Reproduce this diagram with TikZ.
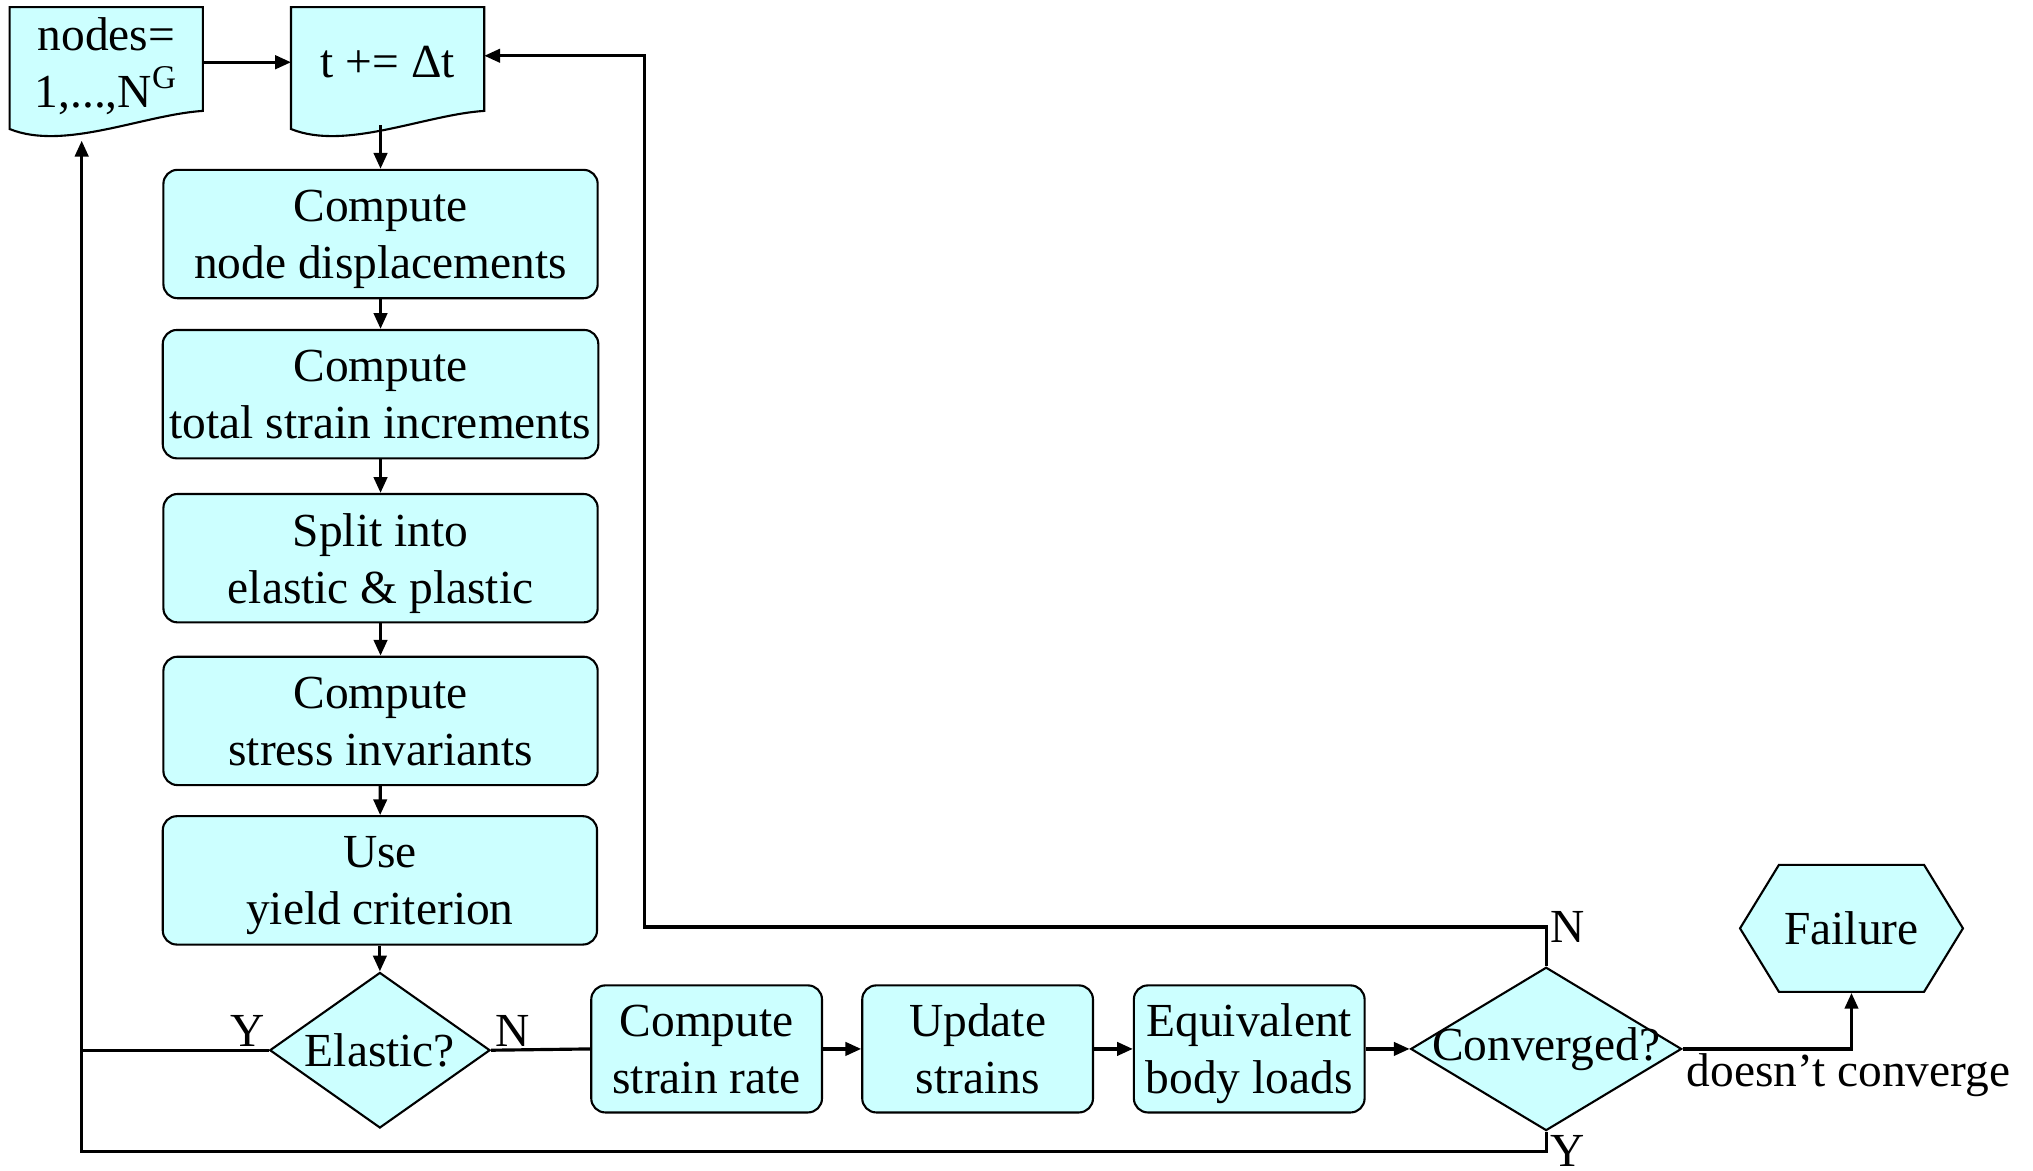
\documentclass[tikz,border=0pt]{standalone}
\usepackage{fontspec}
\setmainfont{Liberation Serif}
\usepackage{xcolor}
\usetikzlibrary{shapes.geometric}
\usetikzlibrary{shapes.symbols}
\usetikzlibrary{arrows.meta}
\usetikzlibrary{calc}
\usetikzlibrary{backgrounds}
\definecolor{boxfill}{HTML}{CCFFFF}
\tikzset{
  procbox/.style={rectangle, rounded corners=4pt, draw, line width=0.6pt,
    fill=boxfill, align=center, inner sep=2pt, text depth=0pt},
  colbox/.style={procbox, minimum width=4.344cm, minimum height=1.284cm},
  rowbox/.style={procbox, minimum width=2.308cm, minimum height=1.271cm},
  docbox/.style={rectangle, align=center, inner sep=1pt, text depth=0pt,
    minimum width=1.919cm, minimum height=1.089cm},
  docline/.style={draw, line width=0.6pt, fill=boxfill},
  decision/.style={diamond, draw, line width=0.6pt, fill=boxfill, inner sep=0pt},
  endbox/.style={signal, signal to=west and east, signal pointer angle=117,
    draw, line width=0.6pt, fill=boxfill, inner sep=1pt,
    minimum width=2.23cm, minimum height=1.271cm},
  lbl/.style={inner sep=1pt},
  line/.style={line width=0.9pt},
  arrow/.style={line, -{Triangle[length=4.5pt, width=3.8pt]}},
}
\begin{document}
\begin{tikzpicture}[x=0.012966cm, y=-0.012966cm, font=\fontsize{13.5}{16.2}\selectfont]
  \useasboundingbox (0,0) rectangle (1568,903);

  % loop heads
  \node[docbox] (init) at (82,48) {nodes=\\1,...,N\textsuperscript{G}};
  \node[docbox] (tstep) at (299,48) {t += Δt};
  \begin{scope}[on background layer]
    \foreach \doc in {init,tstep}
      \draw[docline] (\doc.north west) -- (\doc.north east) -- ($(\doc.south east)+(0,-5)$)
        .. controls ($(\doc.south east)+(-46,-2)$) and ($(\doc.south west)+(42,26)$)
        .. ($(\doc.south west)+(0,9)$) -- cycle;
  \end{scope}

  % per node steps
  \node[colbox] (disp) at (293.5,180.5) {Compute\\node displacements};
  \node[colbox] (strain) at (293.5,304) {Compute\\total strain increments};
  \node[colbox] (split) at (293.5,430.5) {Split into\\elastic \& plastic};
  \node[colbox] (stress) at (293.5,556) {Compute\\stress invariants};
  \node[colbox] (yield) at (293,679) {Use\\yield criterion};

  \node[decision, minimum width=2.204cm, minimum height=1.556cm] (elastic) at (293,810)
    {\makebox[0pt]{Elastic?}};

  \node[rowbox] (rate) at (545,809) {Compute\\strain rate};
  \node[rowbox] (update) at (754,809) {Update\\strains};
  \node[rowbox] (loads) at (963.5,809) {Equivalent\\body loads};

  \node[decision, minimum width=2.71cm, minimum height=1.634cm] (conv) at (1192.5,809)
    {\makebox[0pt]{Converged?}};

  \node[endbox] (fail) at (1428,716) {Failure};

  % connectors
  \draw[arrow] (init.east) -- (tstep.west);
  \draw[arrow] ($(disp.north |- tstep.south)+(0,6)$) -- (disp.north);
  \draw[arrow] (disp) -- (strain);
  \draw[arrow] (strain) -- (split);
  \draw[arrow] (split) -- (stress);
  \draw[arrow] (stress) -- (yield);
  \draw[arrow] (yield) -- (elastic);
  \draw[line] (elastic.east) -- (rate.west);
  \draw[arrow] (rate) -- (update);
  \draw[arrow] (update) -- (loads);
  \draw[arrow] (loads) -- (conv);
  \draw[arrow] (conv.east) -| (fail.south);

  \coordinate (rightN) at (497,715);
  \coordinate (leftY) at (63,888);
  \draw[arrow] (conv.north) |- (rightN) |- ($(tstep.east)+(0,-5)$);
  \draw[arrow] (conv.south) |- (leftY) -- ($(init.south -| leftY)+(0,18)$);
  \draw[line] (elastic.west) -- (elastic.west -| leftY);

  % branch labels
  \node[lbl, above left] at (elastic.west) {Y};
  \node[lbl, above right] at (elastic.east) {N};
  \node[lbl, right] at (conv.north |- rightN) {N};
  \node[lbl, below right] at (conv.south) {Y};
  \node[lbl, below right] at (conv.east) {doesn't converge};
\end{tikzpicture}
\end{document}
